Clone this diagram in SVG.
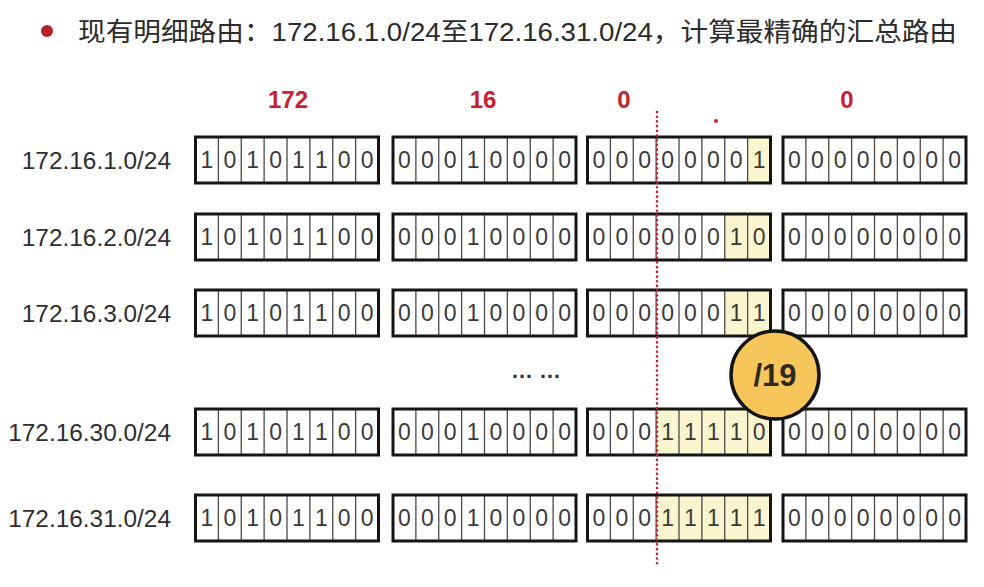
<svg xmlns="http://www.w3.org/2000/svg" xmlns:xlink="http://www.w3.org/1999/xlink" width="984" height="587" viewBox="0 0 984 587">
<style>
.title{font-family:"Liberation Sans","Noto Sans CJK SC",sans-serif;font-size:26px;fill:#2b2b2b}
.hdr{font-family:"Liberation Sans",Arial,sans-serif;font-size:24px;font-weight:bold;fill:#c8202f;text-anchor:middle}
.lbl{font-family:"Liberation Sans",Arial,sans-serif;font-size:24.4px;fill:#2e2e2e;text-anchor:end}
.bit{font-family:"Liberation Sans",Arial,sans-serif;font-size:23px;fill:#3a3a3a;text-anchor:middle}
.hl{fill:#faf5cf}
.frame{fill:none;stroke:#151515;stroke-width:3}
.div{fill:none;stroke:#4a4a4a;stroke-width:1.3}
.cut{stroke:#c8203a;stroke-width:2.6;stroke-dasharray:0.1 4.6;stroke-linecap:round;fill:none}
.badge{fill:#f6c65b;stroke:#141414;stroke-width:3.5}
.badgetxt{font-family:"Liberation Sans",Arial,sans-serif;font-size:31px;font-weight:bold;fill:#2e2a20;text-anchor:middle}
</style>
<defs>
<g id="box">
<path class="div" d="M22.875 0V46M45.75 0V46M68.625 0V46M91.5 0V46M114.375 0V46M137.25 0V46M160.125 0V46"/>
<rect class="frame" x="0" y="0" width="183" height="46"/>
</g>
</defs>

<g id="title">
<circle cx="47" cy="31" r="6" fill="#b8202c"/>
<text class="title" x="78" y="41" textLength="879" lengthAdjust="spacingAndGlyphs">现有明细路由：172.16.1.0/24至172.16.31.0/24，计算最精确的汇总路由</text>
</g>

<g id="headers">
<text class="hdr" x="288" y="108">172</text>
<text class="hdr" x="483" y="108">16</text>
<text class="hdr" x="624" y="108">0</text>
<text class="hdr" x="847" y="108">0</text>
<circle cx="716" cy="121" r="2" fill="#d0203a"/>
</g>

<g id="row1">
<text class="lbl" x="171" y="169">172.16.1.0/24</text>
<use xlink:href="#box" x="195.5" y="137"/>
<use xlink:href="#box" x="393" y="137"/>
<rect class="hl" x="747.6" y="137" width="22.9" height="46"/>
<use xlink:href="#box" x="587.5" y="137"/>
<use xlink:href="#box" x="783" y="137"/>
<text class="bit" x="206.9 229.8 252.7 275.6 298.4 321.3 344.2 367.1" y="168">10101100</text>
<text class="bit" x="404.4 427.3 450.2 473.1 495.9 518.8 541.7 564.6" y="168">00010000</text>
<text class="bit" x="598.9 621.8 644.7 667.6 690.4 713.3 736.2 759.1" y="168">00000001</text>
<text class="bit" x="794.4 817.3 840.2 863.1 885.9 908.8 931.7 954.6" y="168">00000000</text>
</g>

<g id="row2">
<text class="lbl" x="171" y="246">172.16.2.0/24</text>
<use xlink:href="#box" x="195.5" y="214"/>
<use xlink:href="#box" x="393" y="214"/>
<rect class="hl" x="724.8" y="214" width="45.75" height="46"/>
<use xlink:href="#box" x="587.5" y="214"/>
<use xlink:href="#box" x="783" y="214"/>
<text class="bit" x="206.9 229.8 252.7 275.6 298.4 321.3 344.2 367.1" y="245">10101100</text>
<text class="bit" x="404.4 427.3 450.2 473.1 495.9 518.8 541.7 564.6" y="245">00010000</text>
<text class="bit" x="598.9 621.8 644.7 667.6 690.4 713.3 736.2 759.1" y="245">00000010</text>
<text class="bit" x="794.4 817.3 840.2 863.1 885.9 908.8 931.7 954.6" y="245">00000000</text>
</g>

<g id="row3">
<text class="lbl" x="171" y="322">172.16.3.0/24</text>
<use xlink:href="#box" x="195.5" y="290"/>
<use xlink:href="#box" x="393" y="290"/>
<rect class="hl" x="724.8" y="290" width="45.75" height="46"/>
<use xlink:href="#box" x="587.5" y="290"/>
<use xlink:href="#box" x="783" y="290"/>
<text class="bit" x="206.9 229.8 252.7 275.6 298.4 321.3 344.2 367.1" y="321">10101100</text>
<text class="bit" x="404.4 427.3 450.2 473.1 495.9 518.8 541.7 564.6" y="321">00010000</text>
<text class="bit" x="598.9 621.8 644.7 667.6 690.4 713.3 736.2 759.1" y="321">00000011</text>
<text class="bit" x="794.4 817.3 840.2 863.1 885.9 908.8 931.7 954.6" y="321">00000000</text>
</g>

<g id="ellipsis">
<text x="511" y="378" style="font-family:'Liberation Sans',Arial,sans-serif;font-size:22px;font-weight:bold;fill:#333">… …</text>
</g>

<g id="row30">
<text class="lbl" x="171" y="441">172.16.30.0/24</text>
<use xlink:href="#box" x="195.5" y="409"/>
<use xlink:href="#box" x="393" y="409"/>
<rect class="hl" x="656.1" y="409" width="114.4" height="46"/>
<use xlink:href="#box" x="587.5" y="409"/>
<use xlink:href="#box" x="783" y="409"/>
<text class="bit" x="206.9 229.8 252.7 275.6 298.4 321.3 344.2 367.1" y="440">10101100</text>
<text class="bit" x="404.4 427.3 450.2 473.1 495.9 518.8 541.7 564.6" y="440">00010000</text>
<text class="bit" x="598.9 621.8 644.7 667.6 690.4 713.3 736.2 759.1" y="440">00011110</text>
<text class="bit" x="794.4 817.3 840.2 863.1 885.9 908.8 931.7 954.6" y="440">00000000</text>
</g>

<g id="row31">
<text class="lbl" x="171" y="527">172.16.31.0/24</text>
<use xlink:href="#box" x="195.5" y="495"/>
<use xlink:href="#box" x="393" y="495"/>
<rect class="hl" x="656.1" y="495" width="114.4" height="46"/>
<use xlink:href="#box" x="587.5" y="495"/>
<use xlink:href="#box" x="783" y="495"/>
<text class="bit" x="206.9 229.8 252.7 275.6 298.4 321.3 344.2 367.1" y="526">10101100</text>
<text class="bit" x="404.4 427.3 450.2 473.1 495.9 518.8 541.7 564.6" y="526">00010000</text>
<text class="bit" x="598.9 621.8 644.7 667.6 690.4 713.3 736.2 759.1" y="526">00011111</text>
<text class="bit" x="794.4 817.3 840.2 863.1 885.9 908.8 931.7 954.6" y="526">00000000</text>
</g>

<g id="connectors">
<path class="cut" d="M657 112V566"/>
</g>

<g id="prefix19">
<circle class="badge" cx="775" cy="375" r="44"/>
<text class="badgetxt" x="775" y="386">/19</text>
</g>
</svg>
